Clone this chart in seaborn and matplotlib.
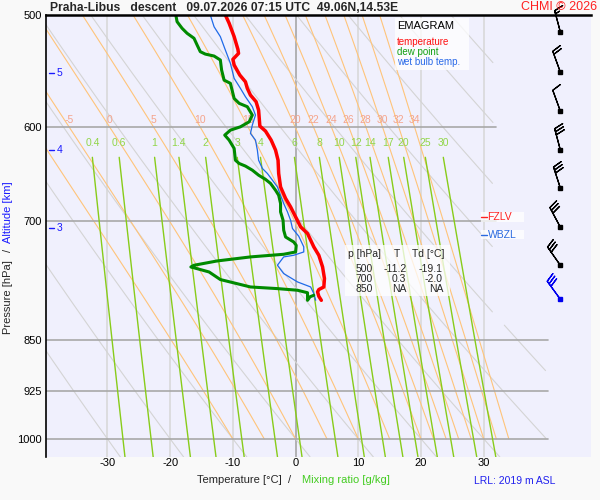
import numpy as np
import pandas as pd
import matplotlib
matplotlib.use("Agg")
import matplotlib.pyplot as plt
from matplotlib.patches import Rectangle
import seaborn as sns

# sounding (descent): pressure [hPa] / temperature [°C]
t_p = [500, 506.8, 518, 528.9, 532.4, 537.6, 542.6, 551.6, 557.7, 563.7, 570, 576.2,
       584.2, 599.6, 604.5, 613.5, 623.6, 634, 647.9, 662.3, 674.9, 684.3, 695.6, 707,
       714.7, 730.5, 740.6, 754.9, 769.3, 780, 783.3, 786.3, 792, 797.2]
t_val = [-11.2, -10.6, -9.8, -9.2, -9.1, -10.0, -9.8, -8.9, -8.0, -7.7, -7.2, -6.3,
         -5.9, -5.7, -4.8, -3.9, -3.2, -2.8, -2.7, -2.4, -1.6, -0.8, 0.0, 0.8,
         1.9, 2.9, 3.7, 4.3, 4.6, 4.5, 3.7, 3.5, 3.7, 4.1]

td_p = [500, 505.5, 511, 515.2, 519.4, 525.2, 530.9, 533, 534.7, 538.2, 547.1, 556.2,
        559.1, 573.1, 577.7, 580.9, 588.9, 595.4, 600.3, 603.6, 608.5, 613.5, 621.9, 634,
        637.4, 640.1, 644.4, 649.7, 654.2, 658.5, 665.9, 671.4, 680.5, 689.9, 699.4, 710.9,
        718.8, 724.7, 728.7, 736.6, 739.4, 742.6, 747.5, 752.8, 754.9, 761.1, 770.6, 780,
        782.1, 784.2, 787.4, 797.2, 792.6, 790.7]
td_val = [-19.1, -18.9, -18.1, -17.3, -16.2, -15.7, -15.2, -14.4, -13.0, -12.0, -11.8, -11.4,
          -10.4, -9.8, -9.0, -7.7, -6.9, -7.4, -8.8, -10.4, -11.3, -10.6, -9.8, -9.6,
          -9.0, -8.0, -6.9, -5.9, -4.8, -4.0, -3.2, -2.7, -2.4, -2.4, -2.0, -1.9,
          -1.6, -0.3, 0.1, 0.0, -1.9, -7.2, -12.5, -16.2, -16.7, -13.8, -12.0, -7.2,
          -2.9, 0.3, 1.9, 1.9, 2.3, 2.9]

tw_p = [500, 509.7, 518, 529.5, 541.1, 554.6, 563.7, 571.5, 580.9, 588.9, 598.6, 606.8,
        613.5, 623.6, 634, 642.6, 647.9, 655, 662.3, 671.4, 680.5, 689.9, 699.4, 708.9,
        717.9, 730.5, 736.6, 740.6, 742.6, 752.8, 763.1, 773.6, 780, 788.4, 797.2]
tw_val = [-13.6, -13.0, -12.0, -11.2, -10.4, -9.8, -8.8, -8.0, -6.9, -6.4, -6.9, -7.2,
          -6.4, -6.1, -5.9, -5.3, -4.5, -3.7, -2.9, -2.4, -1.9, -1.3, -0.8, -0.5,
          0.5, 1.3, 1.3, -0.3, -1.9, -2.9, -1.9, 0.3, 2.4, 2.9, 3.2]

# wind barbs (knots)
wind_p = [514, 549, 585, 624, 663, 707, 752, 796]
wind_dir = [345, 340, 340, 345, 342, 332, 325, 324]
wind_kt = [15, 20, 10, 30, 30, 30, 30, 30]

# background isolines
theta_w = [-10, -5, 0, 5, 10, 15, 20, 22, 24, 26, 28, 30, 32, 34]
theta_d = list(range(-30, 100, 10))
mix_ratio = [0.4, 0.6, 1, 1.4, 2, 3, 4, 6, 8, 10, 12, 14, 17, 20, 25, 30]
mix_labels = ["0.4", "0.6", "1", "1.4", "2", "3", "4", "6", "8", "10", "12", "14", "17", "20", "25", "30"]
isobars = [600, 700, 850, 925, 1000]
isotherms = [-30, -20, -10, 0, 10, 20, 30]
p_ticks = [500, 600, 700, 850, 925, 1000]
t_ticks = [-30, -20, -10, 0, 10, 20, 30]

alt_km = [5, 4, 3]
alt_p = [550, 624, 708]
fzlv_p, wbzl_p = 696, 716

table_head = ["p [hPa]", "T", "Td [°C]"]
table_rows = [["500", "-11.2", "-19.1"], ["700", "0.3", "-2.0"], ["850", "NA", "NA"]]

T_MIN, T_MAX = -39.8, 47.1
P_TOP, P_BOT = 500, 1030
W, H = 600, 500

sns.set_style("white")
plt.rcParams['font.family'] = ['Liberation Sans', 'DejaVu Sans']

fig = plt.figure(figsize=(6, 5), dpi=100, facecolor='#f9f9f9')
ax = fig.add_axes([46 / W, 1 - 457 / H, 545 / W, 442 / H])
ax.set_facecolor('#f0f0fd')
ax.set_yscale('log')
ax.set_xlim(T_MIN, T_MAX)
ax.set_ylim(P_BOT, P_TOP)


def ftext(x, y, s, **kw):
    fig.text(x / W, 1 - y / H, s, **kw)


def sat_vp(tc):
    return 6.112 * np.exp(17.67 * tc / (tc + 243.5))


def moist_line(tw, p):
    rd, cp, lv, eps = 287.04, 1005.7, 2.501e6, 0.622

    def slope(tk, pp):
        es = sat_vp(tk - 273.15)
        rs = eps * es / (pp - es)
        return (rd * tk + lv * rs) / (pp * (cp + lv * lv * rs * eps / (rd * tk * tk)))

    tk = tw + 273.15
    out = [tk]
    for p0, p1 in zip(p[:-1], p[1:]):
        k1 = slope(tk, p0)
        k2 = slope(tk + k1 * (p1 - p0), p1)
        tk = tk + 0.5 * (k1 + k2) * (p1 - p0)
        out.append(tk)
    return np.array(out) - 273.15


# isotherms
for t in isotherms:
    ax.axvline(t, color='#a0a0a0' if t == 0 else '#d6d6d6', lw=1.1, zorder=1)

# isobars
for p in isobars:
    tr = 40.3 if p >= 850 else 32.0
    ax.plot([T_MIN, tr], [p, p], color='#a8a8a8', lw=1.2, zorder=1.5)

# dry adiabats (only inside the drawn diagram frame)
pp = np.geomspace(P_TOP, P_BOT, 400)
for th in theta_d:
    tt = (th + 273.15) * (pp / 1000.0) ** 0.2857 - 273.15
    lim = np.where(pp >= 830, 40.0, 31.5)
    ok = (tt <= lim) & (tt >= T_MIN - 2)
    if ok.sum() < 2:
        continue
    ax.plot(np.where(ok, tt, np.nan), pp, color='#d4d4d4', lw=0.8, zorder=1.2)

# moist adiabats
pm = np.linspace(1000, 500, 400)
for tw in theta_w:
    tt = moist_line(tw, pm)
    ax.plot(tt, pm, color='#ffc47a', lw=0.8, zorder=1.3)
    t600 = np.interp(600, pm[::-1], tt[::-1])
    if T_MIN + 1 < t600 < T_MAX:
        ax.annotate(str(tw), (t600, 600), xytext=(0, 7), textcoords='offset pixels',
                    ha='center', va='center', fontsize=7.5, color='#f5a48c', zorder=1.4)

# mixing ratio lines
pw = np.geomspace(631, P_BOT, 100)
for w, lab in zip(mix_ratio, mix_labels):
    e = w * pw / (622.0 + w)
    le = np.log(e / 6.112)
    td = 243.5 * le / (17.67 - le)
    ax.plot(td, pw, color='#88cc1a', lw=1.0, zorder=1.6)
    ax.annotate(lab, (td[0], 631), xytext=(0, 14), textcoords='offset pixels',
                ha='center', va='center', fontsize=7.5, color='#92d64a', zorder=1.6)

# sounding curves
snd_t = pd.DataFrame({'T': t_val, 'p': t_p})
snd_td = pd.DataFrame({'T': td_val, 'p': td_p})
snd_tw = pd.DataFrame({'T': tw_val, 'p': tw_p})
sns.lineplot(data=snd_tw, x='T', y='p', sort=False, estimator=None, color='#1f6ae8',
             lw=0.9, ax=ax, zorder=5)
sns.lineplot(data=snd_td, x='T', y='p', sort=False, estimator=None, color='#008a00',
             lw=2.2, ax=ax, zorder=6)
sns.lineplot(data=snd_t, x='T', y='p', sort=False, estimator=None, color='#ff0000',
             lw=2.5, ax=ax, zorder=7)

# wind barbs
wd = np.deg2rad(wind_dir)
u = -np.array(wind_kt) * np.sin(wd)
v = -np.array(wind_kt) * np.cos(wd)
bx = np.full(len(wind_p), 42.2)
cols = ['black'] * (len(wind_p) - 1) + ['#0000ee']
for i in range(len(wind_p)):
    ax.barbs(bx[i], wind_p[i], u[i], v[i], length=5.7, lw=0.9, color=cols[i],
             clip_on=False, zorder=8, sizes=dict(spacing=0.14, height=0.4))
    ax.plot(bx[i], wind_p[i], 's', ms=2.5, color=cols[i], zorder=8, clip_on=False)

# altitude marks
for km, p in zip(alt_km, alt_p):
    ax.plot([-39.4, -38.5], [p, p], color='#1a1aff', lw=1.0, zorder=4)
    ax.text(-37.6, p, str(km), color='#1a1aff', fontsize=7.5, ha='center', va='center', zorder=4)

# freezing levels
for lev, name, c in [(fzlv_p, 'FZLV', '#ff2020'), (wbzl_p, 'WBZL', '#2a6ae0')]:
    ax.add_patch(Rectangle((29.5, lev * 0.992), 6.9, lev * 0.016, facecolor='white',
                           alpha=0.75, edgecolor='none', zorder=8))
    ax.plot([29.6, 30.5], [lev, lev], color=c, lw=1.0, zorder=9)
    ax.text(30.6, lev, name, color=c, fontsize=7.5, ha='left', va='center', zorder=9)

# axes styling
ax.set_xticks(t_ticks)
ax.set_xticklabels([str(t) for t in t_ticks])
ax.set_yticks(p_ticks)
ax.set_yticklabels([str(p) for p in p_ticks])
ax.minorticks_off()
ax.tick_params(axis='both', length=0, labelsize=8, colors='black')
ax.tick_params(axis='x', pad=1)
ax.tick_params(axis='y', pad=3)
ax.set_xlabel('')
ax.set_ylabel('')
for side in ['right', 'bottom']:
    ax.spines[side].set_visible(False)
ax.spines['left'].set_color('black')
ax.spines['left'].set_linewidth(1.2)
ax.spines['top'].set_color('black')
ax.spines['top'].set_linewidth(1.8)
ax.spines['top'].set_zorder(9)

# legend box
fig.add_artist(Rectangle((395 / W, 1 - 70 / H), 74 / W, 52 / H, transform=fig.transFigure,
                         facecolor='white', alpha=0.75, edgecolor='none', zorder=3))
ftext(397, 26, 'EMAGRAM', fontsize=8, color='black', va='center', zorder=4)
ftext(397, 42, 'temperature', fontsize=7, color='#ff1010', va='center', zorder=4)
ftext(397, 52, 'dew point', fontsize=7, color='#12a012', va='center', zorder=4)
ftext(397, 62, 'wet bulb temp.', fontsize=7, color='#2a6ae8', va='center', zorder=4)

# value table
fig.add_artist(Rectangle((345 / W, 1 - 296 / H), 105 / W, 51 / H, transform=fig.transFigure,
                         facecolor='white', alpha=0.75, edgecolor='none', zorder=3))
ftext(348, 254, table_head[0], fontsize=7.5, va='center', zorder=4)
ftext(397, 254, table_head[1], fontsize=7.5, va='center', ha='center', zorder=4)
ftext(412, 254, table_head[2], fontsize=7.5, va='center', zorder=4)
for i, row in enumerate(table_rows):
    yy = 268.5 + 10 * i
    ftext(372.5, yy, row[0], fontsize=7.5, va='center', ha='right', zorder=4)
    ftext(406.5, yy, row[1], fontsize=7.5, va='center', ha='right', zorder=4)
    ftext(443, yy, row[2], fontsize=7.5, va='center', ha='right', zorder=4)

# titles and axis captions
ftext(50, 8, 'Praha-Libus   descent   09.07.2026 07:15 UTC  49.06N,14.53E',
      fontsize=8.7, fontweight='bold', va='center', ha='left')
ftext(597, 7, 'CHMI © 2026', fontsize=9, color='#ff2020', va='center', ha='right', zorder=2)
ftext(197, 480, 'Temperature [°C]  /', fontsize=8, va='center', ha='left')
ftext(302, 480, 'Mixing ratio [g/kg]', fontsize=8, color='#44cc22', va='center', ha='left')
ftext(474, 481, 'LRL: 2019 m ASL', fontsize=7.5, color='#2020ee', va='center', ha='left')
ftext(8, 297, 'Pressure [hPa]', fontsize=8, rotation=90, va='center', ha='center')
ftext(8, 250, '/', fontsize=8, rotation=90, va='center', ha='center')
ftext(8, 212, 'Altitude [km]', fontsize=8, rotation=90, va='center', ha='center', color='#1a1aff')

fig.savefig('out.png', dpi=100, facecolor=fig.get_facecolor())
